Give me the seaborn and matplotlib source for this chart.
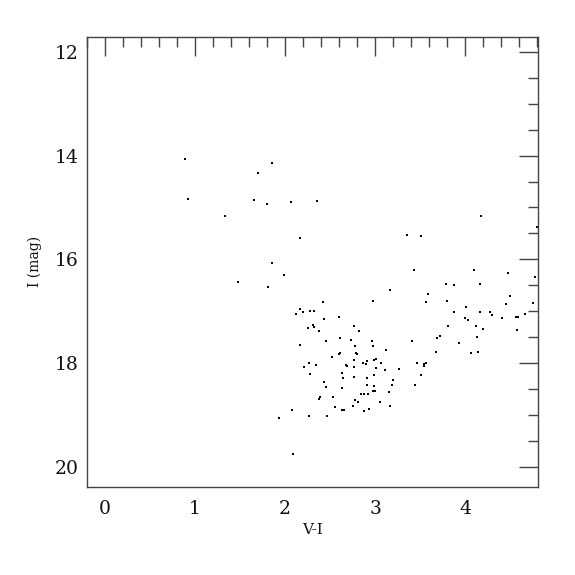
import numpy as np
import pandas as pd
import matplotlib.pyplot as plt
import seaborn as sns
from matplotlib.ticker import MultipleLocator

# Colour-magnitude diagram values
v_minus_i = [0.89, 1.86, 1.70, 0.92, 1.66, 1.80, 2.07, 2.36, 1.33, 2.17, 1.85,
             1.985, 1.48, 1.81, 2.42, 2.17, 2.28, 2.32, 2.12, 2.20, 2.60, 2.43,
             2.77, 2.82, 2.31, 2.32, 2.26, 2.38, 2.61, 2.73, 2.45, 2.78, 2.17,
             2.79, 2.80, 2.61, 2.60, 2.52, 2.76, 2.27, 2.21, 2.34, 2.68, 2.69,
             2.77, 2.63, 2.28, 2.64, 2.77, 2.43, 2.45, 2.63, 2.39, 2.38, 2.53,
             2.78, 2.81, 2.75, 2.56, 2.63, 2.66, 2.08, 2.27, 2.47, 1.93, 2.09,
             4.18, 4.80, 3.35, 3.51, 3.43, 4.10, 4.47, 4.77, 3.79, 3.88, 4.16,
             3.16, 4.50, 3.59, 2.98, 3.57, 3.80, 4.45, 4.75, 4.01, 3.88, 4.16,
             4.28, 4.30, 4.66, 4.56, 4.59, 4.41, 4.00, 4.03, 3.81, 4.12, 4.20,
             4.58, 2.96, 2.98, 3.72, 3.69, 4.13, 3.41, 3.12, 3.93, 3.68, 4.06,
             4.14, 2.99, 3.01, 2.86, 2.90, 2.91, 3.07, 3.46, 3.56, 3.54, 3.54,
             3.01, 3.11, 3.26, 2.91, 2.99, 3.20, 3.51, 2.91, 2.99, 3.19, 3.44,
             2.98, 3.00, 3.15, 2.84, 2.88, 2.92, 3.05, 3.17, 2.88, 2.93]
i_mag = [14.06, 14.14, 14.33, 14.83, 14.85, 14.94, 14.90, 14.87, 15.16, 15.58, 16.08,
         16.31, 16.44, 16.54, 16.82, 16.95, 16.99, 16.99, 17.05, 17.02, 17.11, 17.16,
         17.29, 17.38, 17.27, 17.31, 17.33, 17.39, 17.52, 17.55, 17.58, 17.67, 17.66,
         17.81, 17.83, 17.81, 17.83, 17.89, 17.94, 18.00, 18.08, 18.04, 18.04, 18.06,
         18.08, 18.19, 18.22, 18.29, 18.26, 18.36, 18.47, 18.49, 18.66, 18.70, 18.66,
         18.71, 18.76, 18.82, 18.85, 18.91, 18.91, 18.90, 19.03, 19.03, 19.05, 19.75,
         15.16, 15.37, 15.53, 15.56, 16.20, 16.21, 16.26, 16.34, 16.48, 16.50, 16.47,
         16.59, 16.71, 16.67, 16.80, 16.82, 16.80, 16.86, 16.84, 16.91, 17.01, 17.02,
         17.02, 17.07, 17.05, 17.11, 17.11, 17.14, 17.13, 17.17, 17.29, 17.28, 17.34,
         17.36, 17.58, 17.68, 17.47, 17.52, 17.50, 17.57, 17.75, 17.61, 17.79, 17.80,
         17.79, 17.94, 17.92, 18.00, 18.01, 17.96, 17.99, 18.00, 17.99, 18.02, 18.06,
         18.10, 18.13, 18.11, 18.28, 18.23, 18.32, 18.23, 18.42, 18.44, 18.43, 18.42,
         18.53, 18.53, 18.55, 18.60, 18.60, 18.60, 18.76, 18.82, 18.92, 18.89]

stars = pd.DataFrame({'V-I': v_minus_i, 'I': i_mag})

sns.set_style("white")
plt.rcParams['font.family'] = ['DejaVu Serif']

fig, ax = plt.subplots(figsize=(5.75, 5.75), dpi=100)
fig.subplots_adjust(left=0.151, right=0.936, top=0.936, bottom=0.153)

sns.scatterplot(data=stars, x='V-I', y='I', ax=ax, color='black',
                marker='s', s=3, linewidth=0)

ax.set_xlim(-0.2, 4.81)
ax.set_ylim(20.39, 11.71)
ax.xaxis.set_major_locator(MultipleLocator(1))
ax.xaxis.set_minor_locator(MultipleLocator(0.2))
ax.yaxis.set_major_locator(MultipleLocator(2))
ax.yaxis.set_minor_locator(MultipleLocator(0.5))
ax.tick_params(which='both', direction='in', top=True, right=True,
               color='#444444', width=1)
ax.tick_params(which='major', length=14, labelsize=13.5, pad=6,
               labelcolor='#111111')
ax.tick_params(axis='x', which='major', pad=9)
ax.tick_params(which='minor', length=7)
for s in ax.spines.values():
    s.set_color('#444444')
    s.set_linewidth(1)

ax.set_xlabel('V-I', fontsize=11, labelpad=4, color='#111111')
ax.set_ylabel('I (mag)', fontsize=10, labelpad=9, color='#111111')

plt.savefig('out.png', dpi=100)
